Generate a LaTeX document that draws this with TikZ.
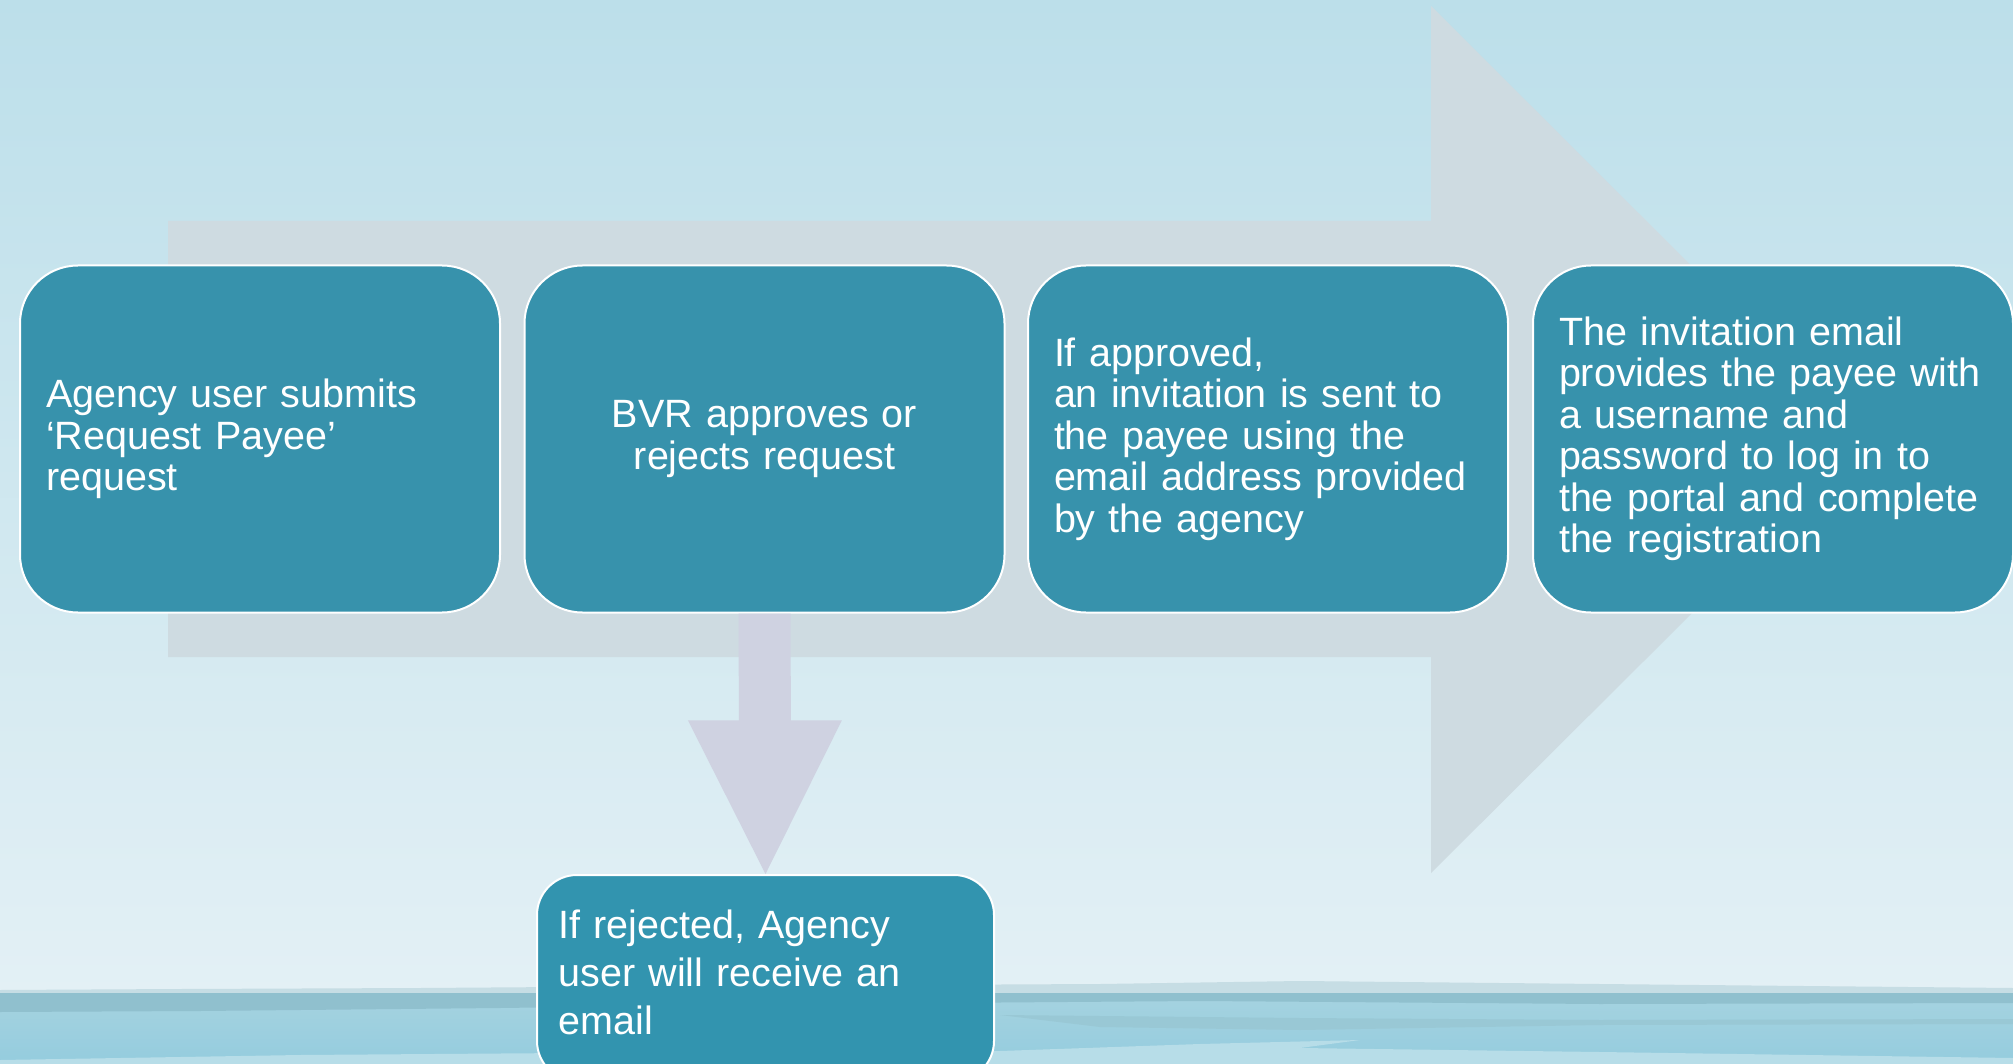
\documentclass[tikz,border=0pt]{standalone}
\usepackage{fontspec}
\setmainfont{Liberation Sans}
\usetikzlibrary{calc}
\definecolor{skytop}{RGB}{188,223,234}
\definecolor{skylow}{RGB}{227,240,245}
\definecolor{flowgray}{RGB}{206,219,225}
\definecolor{droplilac}{RGB}{207,210,225}
\definecolor{stepteal}{RGB}{55,146,172}
\definecolor{rejectteal}{RGB}{50,148,175}
\definecolor{hazeblue}{RGB}{198,221,228}
\definecolor{deepwater}{RGB}{144,192,206}
\definecolor{midwater}{RGB}{166,211,224}
\definecolor{lowwater}{RGB}{148,204,222}
\definecolor{foamwater}{RGB}{183,221,232}
\tikzset{
  stepbox/.style={draw=white, line width=2pt, fill=stepteal, text=white,
    rounded corners=58pt, minimum width=480pt, minimum height=347pt,
    text width=428pt, inner xsep=0pt, align=left,
    execute at begin node={\hyphenpenalty=10000},
    font=\fontsize{39.5}{41.5}\selectfont},
  rejectbox/.style={stepbox, fill=rejectteal, rounded corners=40pt,
    minimum width=457pt, minimum height=206pt, text width=414pt, text depth=108pt,
    font=\fontsize{39.5}{48}\selectfont}
}
\begin{document}
\begin{tikzpicture}[x=1pt, y=-1pt]
  \clip (0,0) rectangle (2013,1064);
  % sky and sea
  \shade[top color=skytop, bottom color=skylow] (0,0) rectangle (2013,994);
  \fill[hazeblue] (0,990) -- (180,989) -- (420,988) -- (700,986) -- (1100,984) -- (1300,981)
    -- (1500,983) -- (1700,985) -- (2013,988) -- (2013,1064) -- (0,1064) -- cycle;
  \shade[top color=midwater, bottom color=lowwater] (0,993) rectangle (2013,1064);
  \fill[deepwater] (0,993) -- (2013,993) -- (2013,1003) -- (1600,1004) -- (1200,1001)
    -- (800,1004) -- (500,1008) -- (200,1011) -- (0,1012) -- cycle;
  \fill[deepwater!60!midwater] (1000,1015) -- (1300,1018) -- (1600,1020) -- (2013,1019)
    -- (2013,1024) -- (1600,1025) -- (1300,1030) -- (1100,1027) -- cycle;
  \fill[foamwater] (0,1060) -- (300,1055) -- (700,1052) -- (1000,1051) -- (1200,1044)
    -- (1360,1040) -- (1300,1048) -- (1600,1052) -- (2013,1058) -- (2013,1064) -- (0,1064) -- cycle;
  % big flow arrow
  \fill[flowgray] (168,221) -- (1431,221) -- (1431,6) -- (1866,440) -- (1431,873)
    -- (1431,657) -- (168,657) -- cycle;
  \node[stepbox] (submit) at (260,439) {Agency user submits\\‘Request Payee’\\request};
  \node[stepbox, align=center] (decide) at (764.5,439) {BVR approves or\\rejects request};
  \node[stepbox] (invite) at (1268,439) {If approved,\\an invitation is sent to\\the payee using the\\email address provided\\by the agency};
  \node[stepbox] (access) at (1773,439) {The invitation email\\provides the payee with\\a username and\\password to log in to\\the portal and complete\\the registration};
  \node[rejectbox, anchor=north] (rejected) at (765.5,874) {If rejected, Agency\\user will receive an\\email};
  % rejection arrow
  \coordinate (neck) at ($(decide.south)!0.41!(rejected.north)$);
  \fill[droplilac] ([xshift=-26pt]decide.south) -- ([xshift=-26pt]neck) -- ([xshift=-77pt]neck)
    -- (rejected.north) -- ([xshift=77pt]neck) -- ([xshift=26pt]neck)
    -- ([xshift=26pt]decide.south) -- cycle;
\end{tikzpicture}
\end{document}
